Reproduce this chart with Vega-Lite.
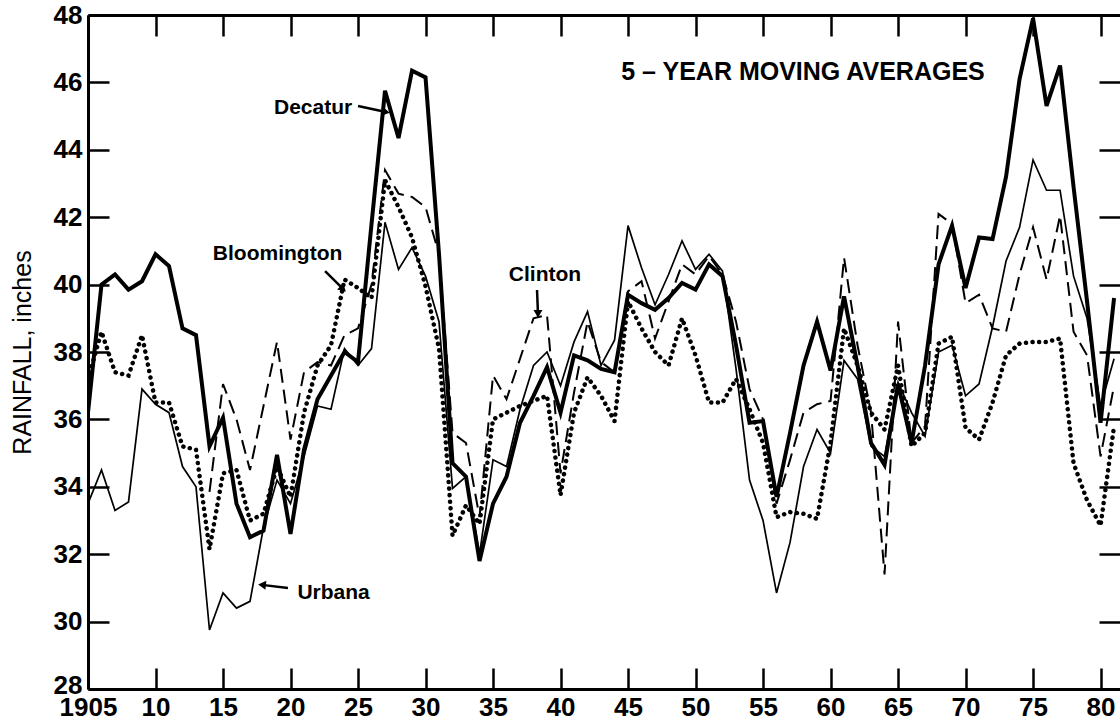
{
  "$schema": "https://vega.github.io/schema/vega-lite/v6.json",
  "width": 1032,
  "height": 674,
  "autosize": {"type": "none"},
  "padding": {"left": 88, "top": 15, "right": 0, "bottom": 37},
  "background": "white",
  "config": {
    "view": {"stroke": null},
    "font": "Liberation Sans",
    "axis": {"grid": false, "domainColor": "black", "tickColor": "black", "labelColor": "black", "titleColor": "black"}
  },
  "datasets": {
    "rain": [
      {"year": 1905, "Decatur": 36.2, "Urbana": 33.5, "Bloomington": 37.2},
      {"year": 1906, "Decatur": 40.0, "Urbana": 34.5, "Bloomington": 38.6},
      {"year": 1907, "Decatur": 40.3, "Urbana": 33.3, "Bloomington": 37.4},
      {"year": 1908, "Decatur": 39.85, "Urbana": 33.55, "Bloomington": 37.3},
      {"year": 1909, "Decatur": 40.1, "Urbana": 36.9, "Bloomington": 38.5},
      {"year": 1910, "Decatur": 40.9, "Urbana": 36.45, "Bloomington": 36.5},
      {"year": 1911, "Decatur": 40.55, "Urbana": 36.2, "Bloomington": 36.5},
      {"year": 1912, "Decatur": 38.7, "Urbana": 34.6, "Bloomington": 35.2},
      {"year": 1913, "Decatur": 38.5, "Urbana": 34.0, "Bloomington": 35.1},
      {"year": 1914, "Decatur": 35.2, "Urbana": 29.75, "Clinton": 33.85, "Bloomington": 32.15},
      {"year": 1915, "Decatur": 36.05, "Urbana": 30.85, "Clinton": 37.05, "Bloomington": 34.4},
      {"year": 1916, "Decatur": 33.5, "Urbana": 30.4, "Clinton": 36.0, "Bloomington": 34.5},
      {"year": 1917, "Decatur": 32.5, "Urbana": 30.6, "Clinton": 34.5, "Bloomington": 33.0},
      {"year": 1918, "Decatur": 32.7, "Urbana": 32.8, "Clinton": 36.4, "Bloomington": 33.2},
      {"year": 1919, "Decatur": 34.95, "Urbana": 34.2, "Clinton": 38.3, "Bloomington": 34.6},
      {"year": 1920, "Decatur": 32.6, "Urbana": 33.5, "Clinton": 35.4, "Bloomington": 33.7},
      {"year": 1921, "Decatur": 35.1, "Urbana": 34.9, "Clinton": 37.4, "Bloomington": 36.2},
      {"year": 1922, "Decatur": 36.6, "Urbana": 36.4, "Clinton": 37.7, "Bloomington": 37.6},
      {"year": 1923, "Decatur": 37.3, "Urbana": 36.3, "Clinton": 37.6, "Bloomington": 38.2},
      {"year": 1924, "Decatur": 38.0, "Urbana": 38.1, "Clinton": 38.5, "Bloomington": 40.15},
      {"year": 1925, "Decatur": 37.7, "Urbana": 37.6, "Clinton": 38.7, "Bloomington": 39.9},
      {"year": 1926, "Decatur": 41.8, "Urbana": 38.1, "Clinton": 40.0, "Bloomington": 39.6},
      {"year": 1927, "Decatur": 45.75, "Urbana": 41.85, "Clinton": 43.4, "Bloomington": 43.1},
      {"year": 1928, "Decatur": 44.35, "Urbana": 40.45, "Clinton": 42.7, "Bloomington": 42.3},
      {"year": 1929, "Decatur": 46.35, "Urbana": 41.1, "Clinton": 42.6, "Bloomington": 41.4},
      {"year": 1930, "Decatur": 46.15, "Urbana": 40.25, "Clinton": 42.3, "Bloomington": 39.95},
      {"year": 1931, "Decatur": 40.9, "Urbana": 38.9, "Clinton": 40.9, "Bloomington": 38.1},
      {"year": 1932, "Decatur": 34.7, "Urbana": 33.95, "Clinton": 35.6, "Bloomington": 32.55},
      {"year": 1933, "Decatur": 34.3, "Urbana": 34.3, "Clinton": 35.3, "Bloomington": 33.45},
      {"year": 1934, "Decatur": 31.8, "Urbana": 32.0, "Clinton": 33.1, "Bloomington": 32.9},
      {"year": 1935, "Decatur": 33.5, "Urbana": 34.8, "Clinton": 37.3, "Bloomington": 36.0},
      {"year": 1936, "Decatur": 34.3, "Urbana": 34.6, "Clinton": 36.6, "Bloomington": 36.2},
      {"year": 1937, "Decatur": 35.9, "Urbana": 36.3, "Clinton": 37.8, "Bloomington": 36.4},
      {"year": 1938, "Decatur": 36.7, "Urbana": 37.6, "Clinton": 39.0, "Bloomington": 36.55},
      {"year": 1939, "Decatur": 37.55, "Urbana": 38.0, "Clinton": 39.1, "Bloomington": 36.7},
      {"year": 1940, "Decatur": 36.2, "Urbana": 37.0, "Clinton": 34.4, "Bloomington": 33.75},
      {"year": 1941, "Decatur": 37.9, "Urbana": 38.3, "Clinton": 36.8, "Bloomington": 36.2},
      {"year": 1942, "Decatur": 37.75, "Urbana": 39.2, "Clinton": 38.9, "Bloomington": 37.25},
      {"year": 1943, "Decatur": 37.5, "Urbana": 37.6, "Clinton": 37.7, "Bloomington": 36.7},
      {"year": 1944, "Decatur": 37.4, "Urbana": 38.35, "Clinton": 37.4, "Bloomington": 35.95},
      {"year": 1945, "Decatur": 39.7, "Urbana": 41.75, "Clinton": 39.8, "Bloomington": 39.5},
      {"year": 1946, "Decatur": 39.45, "Urbana": 40.5, "Clinton": 40.1, "Bloomington": 38.7},
      {"year": 1947, "Decatur": 39.25, "Urbana": 39.4, "Clinton": 38.4, "Bloomington": 38.0},
      {"year": 1948, "Decatur": 39.6, "Urbana": 40.3, "Clinton": 39.5, "Bloomington": 37.6},
      {"year": 1949, "Decatur": 40.05, "Urbana": 41.3, "Clinton": 40.6, "Bloomington": 39.0},
      {"year": 1950, "Decatur": 39.85, "Urbana": 40.45, "Clinton": 40.3, "Bloomington": 37.9},
      {"year": 1951, "Decatur": 40.6, "Urbana": 40.9, "Clinton": 40.85, "Bloomington": 36.5},
      {"year": 1952, "Decatur": 40.25, "Urbana": 40.4, "Clinton": 40.3, "Bloomington": 36.5},
      {"year": 1953, "Decatur": 38.2, "Urbana": 37.5, "Clinton": 38.9, "Bloomington": 37.2},
      {"year": 1954, "Decatur": 35.9, "Urbana": 34.2, "Clinton": 36.9, "Bloomington": 36.3},
      {"year": 1955, "Decatur": 35.95, "Urbana": 33.0, "Clinton": 36.0, "Bloomington": 35.3},
      {"year": 1956, "Decatur": 33.7, "Urbana": 30.85, "Clinton": 33.5, "Bloomington": 33.1},
      {"year": 1957, "Decatur": 35.6, "Urbana": 32.35, "Clinton": 34.8, "Bloomington": 33.25},
      {"year": 1958, "Decatur": 37.6, "Urbana": 34.6, "Clinton": 36.2, "Bloomington": 33.2},
      {"year": 1959, "Decatur": 38.9, "Urbana": 35.7, "Clinton": 36.45, "Bloomington": 33.05},
      {"year": 1960, "Decatur": 37.45, "Urbana": 35.0, "Clinton": 36.55, "Bloomington": 35.3},
      {"year": 1961, "Decatur": 39.65, "Urbana": 37.75, "Clinton": 40.8, "Bloomington": 38.7},
      {"year": 1962, "Decatur": 37.6, "Urbana": 37.2, "Clinton": 38.2, "Bloomington": 37.6},
      {"year": 1963, "Decatur": 35.3, "Urbana": 35.2, "Clinton": 36.2, "Bloomington": 36.2},
      {"year": 1964, "Decatur": 34.65, "Urbana": 34.9, "Clinton": 31.4, "Bloomington": 35.7},
      {"year": 1965, "Decatur": 37.05, "Urbana": 37.1, "Clinton": 38.9, "Bloomington": 37.6},
      {"year": 1966, "Decatur": 35.3, "Urbana": 36.2, "Clinton": 35.3, "Bloomington": 35.2},
      {"year": 1967, "Decatur": 37.6, "Urbana": 35.5, "Clinton": 35.8, "Bloomington": 35.6},
      {"year": 1968, "Decatur": 40.6, "Urbana": 38.0, "Clinton": 42.1, "Bloomington": 38.25},
      {"year": 1969, "Decatur": 41.75, "Urbana": 38.2, "Clinton": 41.8, "Bloomington": 38.45},
      {"year": 1970, "Decatur": 39.9, "Urbana": 36.7, "Clinton": 39.45, "Bloomington": 35.75},
      {"year": 1971, "Decatur": 41.4, "Urbana": 37.05, "Clinton": 39.7, "Bloomington": 35.4},
      {"year": 1972, "Decatur": 41.35, "Urbana": 38.75, "Clinton": 38.7, "Bloomington": 36.5},
      {"year": 1973, "Decatur": 43.2, "Urbana": 40.7, "Clinton": 38.6, "Bloomington": 37.9},
      {"year": 1974, "Decatur": 46.1, "Urbana": 41.7, "Clinton": 40.3, "Bloomington": 38.25},
      {"year": 1975, "Decatur": 47.9, "Urbana": 43.7, "Clinton": 41.7, "Bloomington": 38.3},
      {"year": 1976, "Decatur": 45.3, "Urbana": 42.8, "Clinton": 40.15, "Bloomington": 38.3},
      {"year": 1977, "Decatur": 46.5, "Urbana": 42.8, "Clinton": 42.05, "Bloomington": 38.4},
      {"year": 1978, "Decatur": 42.9, "Urbana": 40.25, "Clinton": 38.6, "Bloomington": 34.7},
      {"year": 1979, "Decatur": 39.5, "Urbana": 39.0, "Clinton": 37.9, "Bloomington": 33.6},
      {"year": 1980, "Decatur": 35.9, "Urbana": 36.4, "Clinton": 34.9, "Bloomington": 32.85},
      {"year": 1981, "Decatur": 39.6, "Urbana": 37.8, "Clinton": 37.0, "Bloomington": 35.8}
    ],
    "labels": [
      {"text": "Decatur", "year": 1921.67, "inches": 45.24},
      {"text": "Bloomington", "year": 1919.04, "inches": 40.91},
      {"text": "Clinton", "year": 1938.85, "inches": 40.28},
      {"text": "Urbana", "year": 1923.19, "inches": 30.85}
    ],
    "heading": [
      {"text": "5 – YEAR MOVING AVERAGES", "year": 1957.96, "inches": 46.31}
    ],
    "arrows": [
      {"name": "Decatur", "year": 1925.0, "inches": 45.30, "year2": 1927.07, "inches2": 45.12},
      {"name": "Bloomington", "year": 1922.56, "inches": 40.40, "year2": 1923.89, "inches2": 39.87},
      {"name": "Clinton", "year": 1938.26, "inches": 39.84, "year2": 1938.33, "inches2": 39.13},
      {"name": "Urbana", "year": 1919.81, "inches": 31.0, "year2": 1917.89, "inches2": 31.09}
    ]
  },
  "resolve": {"axis": {"x": "independent", "y": "independent"}},
  "layer": [
    {
      "data": {"name": "rain"},
      "mark": {"type": "line", "color": "black", "strokeWidth": 1.7, "clip": true},
      "encoding": {
        "x": {"field": "year", "type": "quantitative", "scale": {"domain": [1905, 1981.44], "nice": false, "zero": false},
          "axis": {"orient": "top", "values": [1905, 1910, 1915, 1920, 1925, 1930, 1935, 1940, 1945, 1950, 1955, 1960, 1965, 1970, 1975, 1980], "labels": false, "title": null, "tickSize": -21, "tickWidth": 2.5, "domainWidth": 3}},
        "y": {"field": "Urbana", "type": "quantitative", "scale": {"domain": [28, 48], "nice": false, "zero": false},
          "axis": {"orient": "right", "values": [28, 30, 32, 34, 36, 38, 40, 42, 44, 46, 48], "labels": false, "domain": false, "title": null, "tickSize": -21, "tickWidth": 2.5}}
      }
    },
    {
      "data": {"name": "rain"},
      "mark": {"type": "line", "color": "black", "strokeWidth": 2, "strokeDash": [14, 7], "clip": true},
      "encoding": {
        "x": {"field": "year", "type": "quantitative", "axis": null},
        "y": {"field": "Clinton", "type": "quantitative", "axis": null}
      }
    },
    {
      "data": {"name": "rain"},
      "mark": {"type": "line", "color": "black", "strokeWidth": 4.5, "strokeDash": [0.1, 6.5], "strokeCap": "round", "clip": true},
      "encoding": {
        "x": {"field": "year", "type": "quantitative", "axis": null},
        "y": {"field": "Bloomington", "type": "quantitative", "axis": null}
      }
    },
    {
      "data": {"name": "rain"},
      "mark": {"type": "line", "color": "black", "strokeWidth": 4, "strokeJoin": "miter", "strokeMiterLimit": 4, "clip": true},
      "encoding": {
        "x": {"field": "year", "type": "quantitative",
          "axis": {"orient": "bottom", "values": [1905, 1910, 1915, 1920, 1925, 1930, 1935, 1940, 1945, 1950, 1955, 1960, 1965, 1970, 1975, 1980],
            "labelExpr": "datum.value == 1905 ? '1905' : substring(toString(datum.value), 2)",
            "title": null, "tickSize": -21, "tickWidth": 2.5, "domainWidth": 3, "labelFontSize": 26, "labelFontWeight": "bold",
            "labelPadding": 26, "labelFlush": false, "labelOverlap": false, "labelBound": false}},
        "y": {"field": "Decatur", "type": "quantitative",
          "axis": {"orient": "left", "values": [28, 30, 32, 34, 36, 38, 40, 42, 44, 46, 48],
            "title": "RAINFALL, inches", "titleFontSize": 25, "titleFontWeight": "normal", "titlePadding": 18,
            "tickSize": -21, "tickWidth": 2.5, "domainWidth": 3, "labelFontSize": 26, "labelFontWeight": "bold",
            "labelOffset": {"condition": {"test": "datum.value == 28", "value": -4}, "value": 0},
            "labelPadding": 27, "labelFlush": false, "labelOverlap": false, "labelBound": false}}
      }
    },
    {
      "data": {"name": "labels"},
      "mark": {"type": "text", "color": "black", "fontSize": 21, "fontWeight": "bold", "align": "center", "baseline": "middle"},
      "encoding": {
        "x": {"field": "year", "type": "quantitative", "axis": null},
        "y": {"field": "inches", "type": "quantitative", "axis": null},
        "text": {"field": "text"}
      }
    },
    {
      "data": {"name": "heading"},
      "mark": {"type": "text", "color": "black", "fontSize": 25, "fontWeight": "bold", "align": "center", "baseline": "middle"},
      "encoding": {
        "x": {"field": "year", "type": "quantitative", "axis": null},
        "y": {"field": "inches", "type": "quantitative", "axis": null},
        "text": {"field": "text"}
      }
    },
    {
      "data": {"name": "arrows"},
      "mark": {"type": "rule", "color": "black", "strokeWidth": 2.5},
      "encoding": {
        "x": {"field": "year", "type": "quantitative", "axis": null},
        "y": {"field": "inches", "type": "quantitative", "axis": null},
        "x2": {"field": "year2"},
        "y2": {"field": "inches2"}
      }
    },
    {
      "data": {"name": "arrows"},
      "transform": [{"filter": "datum.name == 'Decatur'"}],
      "mark": {"type": "point", "shape": "triangle-right", "angle": 12, "filled": true, "color": "black", "size": 80, "opacity": 1},
      "encoding": {
        "x": {"field": "year2", "type": "quantitative", "axis": null},
        "y": {"field": "inches2", "type": "quantitative", "axis": null}
      }
    },
    {
      "data": {"name": "arrows"},
      "transform": [{"filter": "datum.name == 'Bloomington'"}],
      "mark": {"type": "point", "shape": "triangle-right", "angle": 45, "filled": true, "color": "black", "size": 80, "opacity": 1},
      "encoding": {
        "x": {"field": "year2", "type": "quantitative", "axis": null},
        "y": {"field": "inches2", "type": "quantitative", "axis": null}
      }
    },
    {
      "data": {"name": "arrows"},
      "transform": [{"filter": "datum.name == 'Clinton'"}],
      "mark": {"type": "point", "shape": "triangle-down", "filled": true, "color": "black", "size": 80, "opacity": 1},
      "encoding": {
        "x": {"field": "year2", "type": "quantitative", "axis": null},
        "y": {"field": "inches2", "type": "quantitative", "axis": null}
      }
    },
    {
      "data": {"name": "arrows"},
      "transform": [{"filter": "datum.name == 'Urbana'"}],
      "mark": {"type": "point", "shape": "triangle-left", "angle": 6, "filled": true, "color": "black", "size": 80, "opacity": 1},
      "encoding": {
        "x": {"field": "year2", "type": "quantitative", "axis": null},
        "y": {"field": "inches2", "type": "quantitative", "axis": null}
      }
    }
  ]
}
